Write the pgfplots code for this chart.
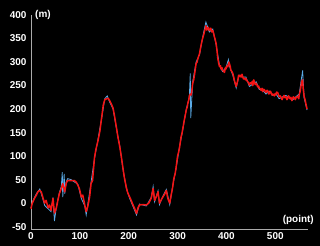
\documentclass[border=0pt]{standalone}
\usepackage{pgfplots}
\pgfplotsset{compat=1.18}
\usepackage{fontspec}
\setmainfont{Liberation Sans}
\definecolor{redline}{RGB}{245,20,20}
\definecolor{blueline}{RGB}{90,170,230}
\definecolor{axgray}{RGB}{170,170,170}
\begin{document}
\begin{tikzpicture}
\fill[black] (-31bp,-17bp) rectangle (289bp,229bp);
\begin{axis}[
  scale only axis,
  width=277bp, height=214bp,
  xmin=0, xmax=567, ymin=-55, ymax=400,
  axis x line=bottom, axis y line=left,
  axis line style={axgray, line width=1pt, -},
  xtick={0,100,...,500},
  ytick={-50,0,...,400},
  major tick length=0pt,
  tick style={draw=none},
  font=\fontsize{10}{12}\selectfont\bfseries,
  /pgf/number format/assume math mode=true,
  ticklabel style={text=white, font=\fontsize{10}{12}\selectfont\bfseries},
  yticklabel style={xshift=-1bp},
  clip=false,
]
\addplot[blueline, line width=0.8pt] coordinates {
(0,-10)(4,5)(11,20)(18,30)(24,10)(28,-5)(35,-12)(41,-18)(45,12)(48,-38)(52,-8)(58,22)(62,35)(64,66)(65,13)(68,62)(69,20)(72,45)(75,52)(82,50)(89,45)(96,40)(103,10)(110,-6)(113,-25)(116,-5)(123,45)(130,95)(137,135)(145,183)(151,222)(156,228)(161,215)(168,200)(175,158)(182,120)(188,74)(195,32)(202,10)(208,-5)(216,-25)(222,-2)(236,-6)(246,12)(250,35)(253,3)(260,26)(263,-3)(270,15)(277,29)(284,-3)(290,36)(297,74)(304,120)(311,158)(318,201)(324,224)(326,276)(327,181)(331,258)(338,300)(345,316)(352,356)(358,385)(365,364)(372,370)(379,336)(386,292)(392,280)(399,288)(404,305)(406,292)(413,272)(420,245)(426,272)(433,268)(440,268)(447,248)(454,253)(461,258)(467,242)(474,240)(481,232)(488,238)(495,229)(501,233)(508,222)(515,226)(522,229)(528,224)(535,219)(542,226)(549,232)(556,282)(559,224)(565,198)
};
\addplot[redline, line width=1.5pt, line join=round] coordinates {
(0,-12)(2,-2)(4,3)(7,10)(11,17)(14,24)(18,27)(21,24)(24,13)(28,0)(31,6)(35,-10)(38,-4)(41,-15)(45,10)(48,-21)(52,-10)(55,6)(58,20)(62,31)(65,42)(69,24)(72,42)(75,48)(82,48)(89,48)(93,44)(96,38)(99,31)(103,13)(106,17)(110,-4)(113,-18)(116,-8)(120,13)(123,42)(126,48)(130,97)(133,115)(137,132)(141,153)(145,185)(148,209)(151,220)(155,222)(158,223)(161,218)(164,212)(168,202)(171,185)(175,160)(178,140)(182,118)(185,98)(188,76)(191,55)(195,34)(198,22)(202,13)(205,6)(208,-2)(212,-11)(216,-22)(219,-10)(222,-4)(229,-3)(236,-4)(241,0)(246,10)(250,31)(253,6)(257,15)(260,24)(263,0)(267,8)(270,13)(274,20)(277,27)(280,10)
(284,0)(286,12)(287,18)(289,28)(290,34)(292,50)(293,55)(295,62)(297,76)(299,92)(300,100)(302,108)(304,118)(306,132)(307,140)(309,148)(311,160)(313,172)(314,178)(316,188)(318,199)(320,205)(321,212)(323,220)(324,227)(326,232)(328,230)(330,245)(331,255)(333,262)(335,275)(337,290)(338,297)(340,300)(341,305)(343,312)(345,318)(347,330)(348,335)(350,345)(352,353)(354,360)(355,365)(357,372)(358,377)(360,368)(361,370)(363,374)(365,367)(367,370)(368,372)(370,364)(372,367)(374,360)
(375,355)(377,348)(379,339)(381,322)(382,310)(384,298)(386,290)(388,292)(389,285)(391,288)(392,283)(394,280)(396,278)(398,288)(399,285)(401,292)(403,290)(405,300)(406,297)(408,290)(409,283)(411,280)(413,276)(415,268)(416,262)(418,255)(420,248)(422,256)(423,260)(425,272)(426,269)(428,272)(430,268)(432,274)(433,270)(435,264)(437,266)(439,262)(440,265)(442,260)(444,258)(446,254)(447,251)(449,256)(451,254)(453,259)(454,250)(456,262)(457,258)(459,252)(461,255)(463,250)(464,247)(466,249)(467,245)(469,243)(471,240)(473,244)(474,237)(476,242)(478,241)(480,236)(481,235)(483,240)(485,238)(487,232)(488,234)(490,238)(491,236)(493,230)(495,232)(497,229)(498,228)(500,233)(501,230)(503,236)(505,235)(507,229)(508,226)(510,228)(512,225)(514,220)(515,223)(517,227)(518,229)(520,224)(522,226)(524,220)(525,222)(527,228)(528,227)(530,222)(532,225)(534,218)(535,221)(537,226)(539,224)(541,220)(542,223)(544,226)(546,227)(548,222)(549,230)(551,238)(552,245)(554,258)(556,262)(557,245)(559,227)(561,220)(562,215)(564,205)(565,200)
};
\node[anchor=west, text=white, inner sep=0pt, xshift=4bp] at (rel axis cs:0,1) {(m)};
\node[anchor=south east, text=white, inner sep=0pt, xshift=6bp, yshift=4bp] at (rel axis cs:1,0) {(point)};
\end{axis}
\end{tikzpicture}
\end{document}
